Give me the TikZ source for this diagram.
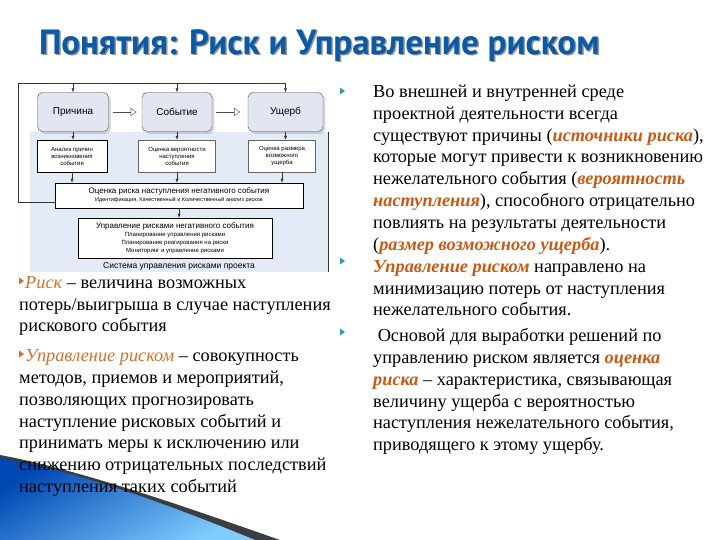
\documentclass[tikz,border=0pt]{standalone}
\usepackage{fontspec}
\setmainfont{Liberation Serif}
\newfontfamily\diag{Liberation Sans}
\newfontfamily\ttl{PT Sans}
\usetikzlibrary{arrows.meta,shadows}
\definecolor{ttlblue}{RGB}{10,90,165}
\definecolor{accent}{RGB}{200,90,20}
\definecolor{lacc}{RGB}{205,115,45}
\definecolor{bul}{RGB}{60,150,185}
\definecolor{panel}{RGB}{226,235,246}
\definecolor{topbox}{RGB}{226,230,240}
\begin{document}
\begin{tikzpicture}[x=1pt,y=-1pt,
  txt/.style={anchor=base west,inner sep=0,font=\fontsize{18.3}{20}\selectfont},
  topb/.style={draw=black!70,fill=topbox,rounded corners=5pt,drop shadow={opacity=0.3},font=\diag\fontsize{10}{11}\selectfont},
  smallb/.style={draw=black,fill=white,align=center,inner sep=1pt,font=\diag\fontsize{6}{7}\selectfont},
  arr/.style={-{Latex[length=4pt,width=3pt]},black!80}]
\useasboundingbox (0,0) rectangle (720,540);
\fill[white] (0,0) rectangle (720,540);
% title
\node[anchor=west,text=black!40,font=\ttl\bfseries\fontsize{35}{38}\selectfont] at (37,47) {Понятия: Риск и Управление риском};
\node (title)[anchor=west,text=ttlblue,font=\ttl\bfseries\fontsize{35}{38}\selectfont] at (35.5,45.5) {Понятия: Риск и Управление риском};
% diagram
\fill[panel] (30,132) rectangle (328,272);
\draw[black!80] (328,132) -- (328,272);
\node (c) [topb,minimum width=71pt,minimum height=39pt] at (73,112) {Причина};
\node (e) [topb,minimum width=70pt,minimum height=39pt] at (177,112) {Событие};
\node (u) [topb,minimum width=75pt,minimum height=39pt] at (285.5,112) {Ущерб};
\draw[-{Triangle[open,length=6pt,width=8pt]},black!70] (c.east)++(4,0) -- ++(24,0);
\draw[-{Triangle[open,length=6pt,width=8pt]},black!70] (e.east)++(4,0) -- ++(24,0);
\node (a1)[smallb,minimum width=70pt,minimum height=32pt] at (72,156) {Анализ причин\\возникновения\\события};
\node (a2)[smallb,minimum width=77pt,minimum height=32pt,draw=black!60] at (177,156) {Оценка вероятности\\наступления\\события};
\node (a3)[smallb,minimum width=67pt,minimum height=32pt,draw=black!60] at (282,156) {Оценка размера\\возможного\\ущерба};
\node (r)[smallb,minimum width=248pt,minimum height=25pt,font=\diag\fontsize{8}{9}\selectfont] at (179,195.5) {Оценка риска наступления негативного события\\[-1pt]{\fontsize{5.5}{6}\selectfont Идентификация, Качественный и Количественный анализ рисков}};
\node (m)[smallb,minimum width=194pt,minimum height=40pt,font=\diag\fontsize{8}{9}\selectfont] at (175,238) {Управление рисками негативного события\\[-1pt]{\fontsize{6}{6.5}\selectfont Планирование управления рисками}\\[-1pt]{\fontsize{6}{6.5}\selectfont Планирование реагирования на риски}\\[-1pt]{\fontsize{6}{6.5}\selectfont Мониторинг и управление рисками}};
\node (sys)[font=\diag\fontsize{8.5}{10}\selectfont,inner sep=0] at (179,266) {Система управления рисками проекта};
\coordinate (fb) at (18,202);
\coordinate (ft) at (18,83);
\draw[black!80,line width=0.8pt] (r.west |- fb) -- (fb) -- (ft) -- (ft -| u);
\draw[arr] (c.north |- ft) -- (c.north);
\draw[arr] (e.north |- ft) -- (e.north);
\draw[arr] (u.north |- ft) -- (u.north);
\draw[arr] (c.south) -- (c.south |- a1.north);
\draw[arr] (e.south) -- (e.south |- a2.north);
\draw[arr] (u.south) -- (u.south |- a3.north);
\draw[arr] (a1.south) -- (a1.south |- r.north);
\draw[arr] (a2.south) -- (a2.south |- r.north);
\draw[arr] (a3.south) -- (a3.south |- r.north);
\draw[arr] (r.south) -- (r.south |- m.north);
% bullets right
\foreach \y in {93,263,334} \fill[bul] (340,\y-5.5) -- (345,\y-2) -- (340,\y+1.5) -- cycle;
\foreach \y/\t in {
 98/{Во внешней и внутренней среде},
 120/{проектной деятельности всегда},
 142/{существуют причины (\textcolor{accent}{\bfseries\itshape источники риска}),},
 163/{которые могут привести к возникновению},
 185/{нежелательного события (\textcolor{accent}{\bfseries\itshape вероятность}},
 207/{\textcolor{accent}{\bfseries\itshape наступления}), способного отрицательно},
 229/{повлиять на результаты деятельности},
 250/{(\textcolor{accent}{\bfseries\itshape размер возможного ущерба}).},
 272/{\textcolor{accent}{\bfseries\itshape Управление риском} направлено на},
 294/{минимизацию потерь от наступления},
 315/{нежелательного события.},
 341/{\ Основой для выработки решений по},
 363/{управлению риском является \textcolor{accent}{\bfseries\itshape оценка}},
 385/{\textcolor{accent}{\bfseries\itshape риска} – характеристика, связывающая},
 407/{величину ущерба с вероятностью},
 428/{наступления нежелательного события,},
 450/{приводящего к этому ущербу.}}
 \node[txt] at (373,\y) {\t};
% decoration
\fill[black!85!cyan] (0,455) .. controls (80,470) and (180,505) .. (280,540) -- (0,540) -- cycle;
\shade[top color=cyan!40!blue!70!black, bottom color=cyan!60!blue!50, shading angle=30] (0,458) .. controls (80,472) and (170,505) .. (255,540) -- (0,540) -- cycle;
% bullets left
\foreach \y in {283,356} \fill[lacc] (19,\y-5.5) -- (24,\y-2) -- (19,\y+1.5) -- cycle;
\foreach \y/\t in {
 288/{\hspace{6pt}\textcolor{lacc}{\itshape Риск} – величина возможных},
 310/{потерь/выигрыша в случае наступления},
 331/{рискового события},
 361/{\hspace{6pt}\textcolor{lacc}{\itshape Управление риском} – совокупность},
 383/{методов, приемов и мероприятий,},
 405/{позволяющих прогнозировать},
 427/{наступление рисковых событий и},
 448/{принимать меры к исключению или},
 470/{снижению отрицательных последствий},
 492/{наступления таких событий}}
 \node[txt] at (19,\y) {\t};
\end{tikzpicture}
\end{document}
